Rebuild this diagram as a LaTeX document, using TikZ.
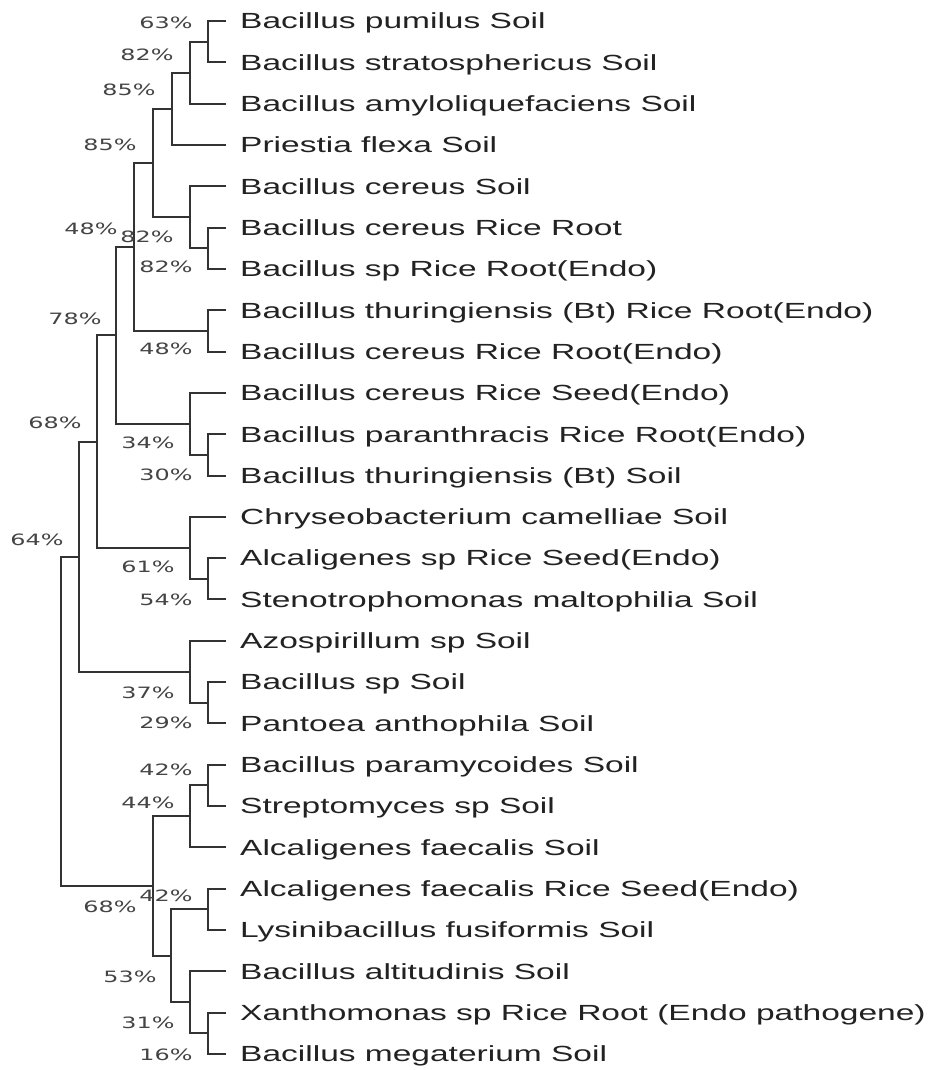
\documentclass[tikz,border=0pt]{standalone}
\usepackage{graphicx}
\usepackage{fontspec}
\setmainfont{Liberation Sans}
\newfontfamily\pctfam{DejaVu Sans}
\definecolor{leafcol}{HTML}{222222}
\definecolor{pctcol}{HTML}{444444}
\definecolor{linecol}{HTML}{333333}
\newcommand\sx[1]{\scalebox{1.53}[1]{#1}}
\begin{document}
\begin{tikzpicture}[x=1pt,y=-1pt,
  leaf/.style={anchor=base west, inner sep=0pt, text=leafcol, font=\fontsize{21.9}{26}\selectfont},
  pct/.style={anchor=base, inner sep=0pt, text=pctcol, font=\pctfam\fontsize{15.6}{18}\selectfont},
  branch/.style={draw=linecol, line width=2pt}]
\fill[white] (0,0) rectangle (936,1070);
\useasboundingbox (0,0) rectangle (936,1070);
% leaves
\foreach \i/\t in {
 1/{Bacillus pumilus Soil},
 2/{Bacillus stratosphericus Soil},
 3/{Bacillus amyloliquefaciens Soil},
 4/{Priestia flexa Soil},
 5/{Bacillus cereus Soil},
 6/{Bacillus cereus Rice Root},
 7/{Bacillus sp Rice Root(Endo)},
 8/{Bacillus thuringiensis (Bt) Rice Root(Endo)},
 9/{Bacillus cereus Rice Root(Endo)},
 10/{Bacillus cereus Rice Seed(Endo)},
 11/{Bacillus paranthracis Rice Root(Endo)},
 12/{Bacillus thuringiensis (Bt) Soil},
 13/{Chryseobacterium camelliae Soil},
 14/{Alcaligenes sp Rice Seed(Endo)},
 15/{Stenotrophomonas maltophilia Soil},
 16/{Azospirillum sp Soil},
 17/{Bacillus sp Soil},
 18/{Pantoea anthophila Soil},
 19/{Bacillus paramycoides Soil},
 20/{Streptomyces sp Soil},
 21/{Alcaligenes faecalis Soil},
 22/{Alcaligenes faecalis Rice Seed(Endo)},
 23/{Lysinibacillus fusiformis Soil},
 24/{Bacillus altitudinis Soil},
 25/{Xanthomonas sp Rice Root (Endo pathogene)},
 26/{Bacillus megaterium Soil}}{
  \pgfmathsetmacro\yy{21+41.32*(\i-1)}
  \coordinate (T\i) at (226,\yy);
  \node[leaf] (L\i) at (240,\yy+7.8) {\sx{\t}};
}
% internal nodes
\coordinate (a) at (208,41.66);
\coordinate (b) at (190,72.65);
\coordinate (c) at (172,108.81);
\coordinate (d) at (208,248.26);
\coordinate (e) at (190,217.27);
\coordinate (f) at (153,163.04);
\coordinate (g) at (208,330.9);
\coordinate (h) at (134,246.97);
\coordinate (i) at (208,454.86);
\coordinate (j) at (190,423.87);
\coordinate (k) at (116,335.42);
\coordinate (l) at (208,578.82);
\coordinate (m) at (190,547.83);
\coordinate (n) at (97,441.63);
\coordinate (o) at (208,702.78);
\coordinate (p) at (190,671.79);
\coordinate (q) at (79,556.71);
\coordinate (r) at (208,785.42);
\coordinate (s) at (190,816.41);
\coordinate (t) at (208,909.38);
\coordinate (u) at (208,1033.34);
\coordinate (v) at (190,1002.35);
\coordinate (w) at (171,955.87);
\coordinate (xx) at (153,886.14);
\coordinate (root) at (61,721.43);
% branches
\draw[branch] (T1) -| (a) |- (T2);
\draw[branch] (a) -| (b) |- (T3);
\draw[branch] (b) -| (c) |- (T4);
\draw[branch] (T6) -| (d) |- (T7);
\draw[branch] (T5) -| (e) |- (d);
\draw[branch] (c) -| (f) |- (e);
\draw[branch] (T8) -| (g) |- (T9);
\draw[branch] (f) -| (h) |- (g);
\draw[branch] (T11) -| (i) |- (T12);
\draw[branch] (T10) -| (j) |- (i);
\draw[branch] (h) -| (k) |- (j);
\draw[branch] (T14) -| (l) |- (T15);
\draw[branch] (T13) -| (m) |- (l);
\draw[branch] (k) -| (n) |- (m);
\draw[branch] (T17) -| (o) |- (T18);
\draw[branch] (T16) -| (p) |- (o);
\draw[branch] (n) -| (q) |- (p);
\draw[branch] (T19) -| (r) |- (T20);
\draw[branch] (r) -| (s) |- (T21);
\draw[branch] (T22) -| (t) |- (T23);
\draw[branch] (T25) -| (u) |- (T26);
\draw[branch] (T24) -| (v) |- (u);
\draw[branch] (t) -| (w) |- (v);
\draw[branch] (s) -| (xx) |- (w);
\draw[branch] (q) -| (root) |- (xx);
% support values
\node[pct] (p1) at (166,28.5) {\sx{63\%}};
\node[pct] (p2) at (147,60.5) {\sx{82\%}};
\node[pct] (p3) at (129,95.5) {\sx{85\%}};
\node[pct] (p4) at (110,150.5) {\sx{85\%}};
\node[pct] (p5) at (91,234.5) {\sx{48\%}};
\node[pct] (p6) at (147,242.5) {\sx{82\%}};
\node[pct] (p7) at (166,272.5) {\sx{82\%}};
\node[pct] (p8) at (75,324.5) {\sx{78\%}};
\node[pct] (p9) at (166,354.5) {\sx{48\%}};
\node[pct] (p10) at (55,428.5) {\sx{68\%}};
\node[pct] (p11) at (148,448.5) {\sx{34\%}};
\node[pct] (p12) at (166,480.5) {\sx{30\%}};
\node[pct] (p13) at (37,545.5) {\sx{64\%}};
\node[pct] (p14) at (148,572.5) {\sx{61\%}};
\node[pct] (p15) at (166,605.5) {\sx{54\%}};
\node[pct] (p16) at (148,698.5) {\sx{37\%}};
\node[pct] (p17) at (166,728.5) {\sx{29\%}};
\node[pct] (p18) at (166,775.5) {\sx{42\%}};
\node[pct] (p19) at (148,808.5) {\sx{44\%}};
\node[pct] (p20) at (166,901.5) {\sx{42\%}};
\node[pct] (p21) at (110,912.5) {\sx{68\%}};
\node[pct] (p22) at (130,982.5) {\sx{53\%}};
\node[pct] (p23) at (148,1028.5) {\sx{31\%}};
\node[pct] (p24) at (166,1060.5) {\sx{16\%}};
\end{tikzpicture}
\end{document}
